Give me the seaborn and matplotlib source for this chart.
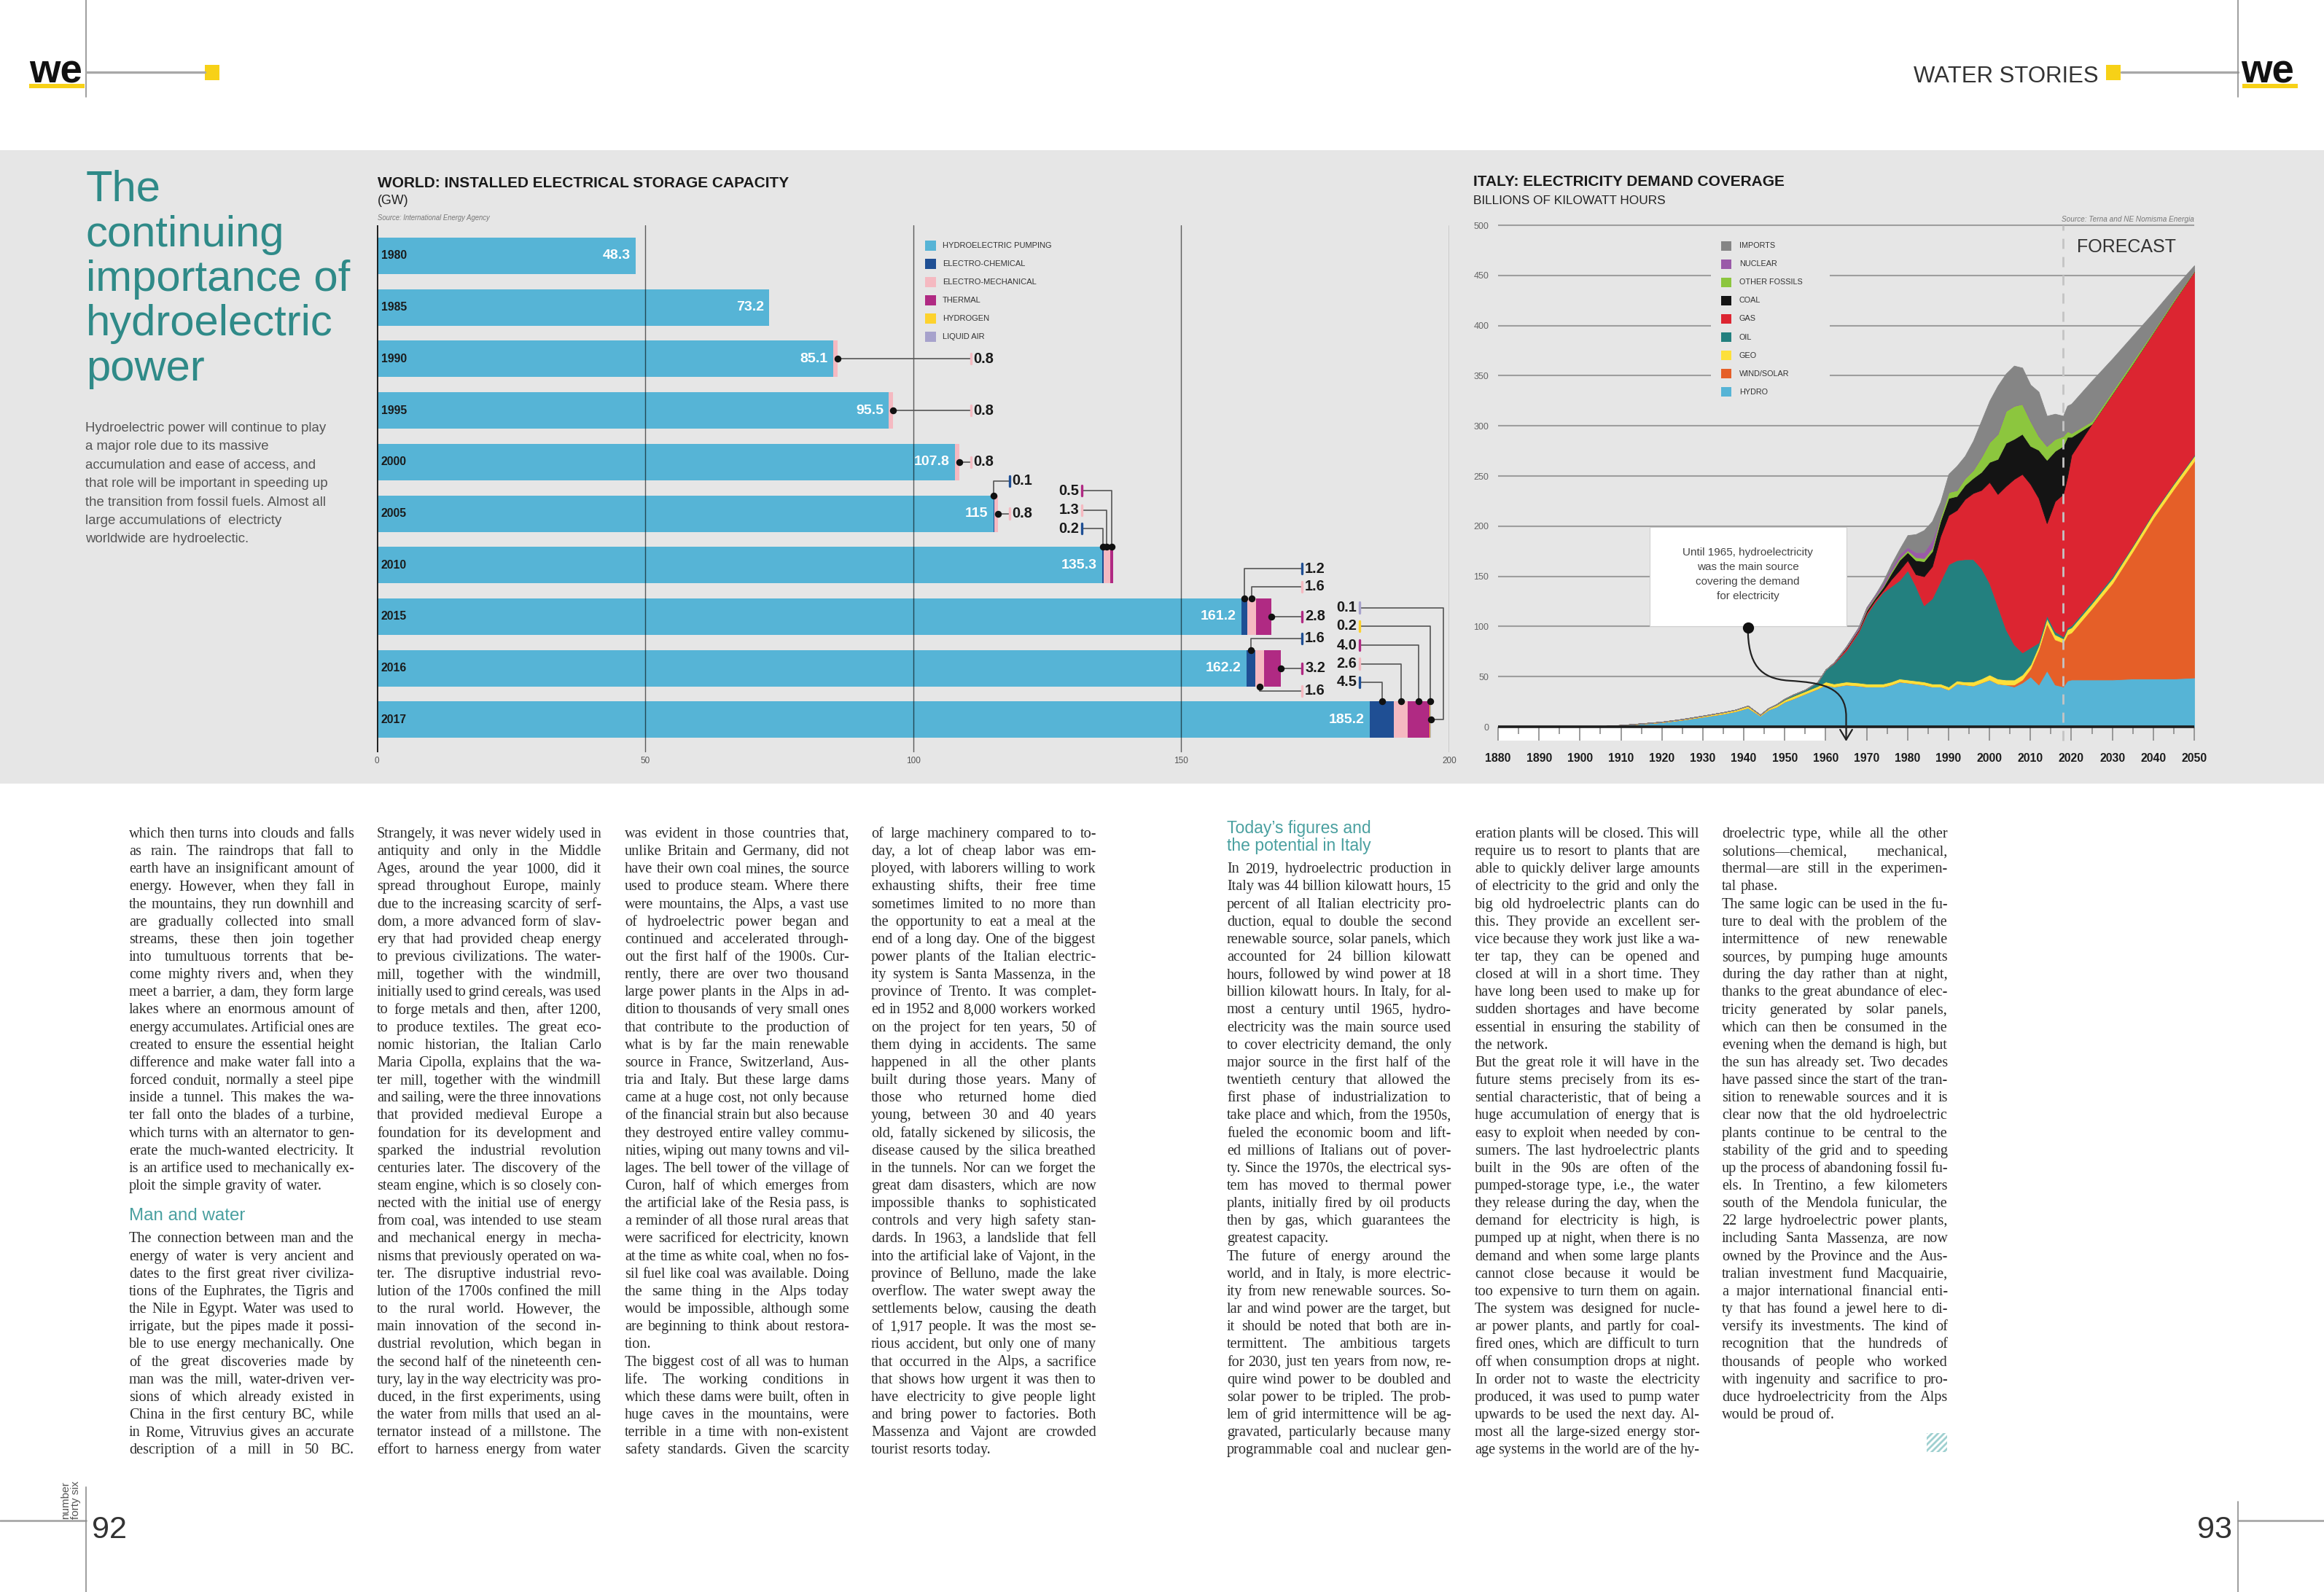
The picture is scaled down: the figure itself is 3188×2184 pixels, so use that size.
import matplotlib
matplotlib.use("Agg")
import matplotlib.pyplot as plt
import seaborn as sns
from matplotlib.patches import Rectangle, FancyArrowPatch
from matplotlib.path import Path
from matplotlib.font_manager import FontProperties, fontManager
from matplotlib.textpath import TextToPath

# =================================================================
# 1. DATA
# =================================================================
# World: installed electrical storage capacity (GW)
STORAGE_YEARS = ["1980", "1985", "1990", "1995", "2000", "2005", "2010", "2015", "2016", "2017"]
HYDRO_PUMPING = [48.3, 73.2, 85.1, 95.5, 107.8, 115, 135.3, 161.2, 162.2, 185.2]
ELECTRO_CHEMICAL = [0, 0, 0, 0, 0, 0.1, 0.2, 1.2, 1.6, 4.5]
ELECTRO_MECHANICAL = [0, 0, 0.8, 0.8, 0.8, 0.8, 1.3, 1.6, 1.6, 2.6]
THERMAL = [0, 0, 0, 0, 0, 0, 0.5, 2.8, 3.2, 4.0]
HYDROGEN = [0, 0, 0, 0, 0, 0, 0, 0, 0, 0.2]
LIQUID_AIR = [0, 0, 0, 0, 0, 0, 0, 0, 0, 0.1]
STORAGE_LABELS = ["HYDROELECTRIC PUMPING", "ELECTRO-CHEMICAL", "ELECTRO-MECHANICAL",
                  "THERMAL", "HYDROGEN", "LIQUID AIR"]
STORAGE_COLORS = ["#56b4d6", "#1f4f94", "#f5b9c1", "#b02a83", "#fdd22d", "#a7a2cc"]

# Italy: electricity demand coverage (billions of kWh)
ITALY_YEARS = [1880, 1900, 1905, 1910, 1915, 1920, 1925, 1930, 1935, 1938,
               1941, 1944, 1946, 1948, 1950, 1952, 1955, 1958, 1960, 1962,
               1965, 1968, 1970, 1972, 1974, 1976, 1978, 1980, 1982, 1984,
               1986, 1988, 1990, 1992, 1994, 1996, 1998, 2000, 2002, 2004,
               2006, 2008, 2010, 2012, 2014, 2016, 2018, 2019, 2020, 2025,
               2030, 2035, 2040, 2045, 2050]
HYDRO = [0, 0, 0.5, 1.5, 3, 4.5, 7, 10, 13, 15.5,
         19, 11, 17, 20, 25, 28, 33, 38, 42, 40,
         42, 41, 40, 40, 40, 42, 45, 44, 43, 42,
         40, 40, 37, 43, 42, 41, 44, 47, 43, 42,
         40, 44, 50, 42, 56, 42, 40, 46, 47, 47,
         47, 48, 48, 48, 49]
WIND_SOLAR = [0, 0, 0, 0, 0, 0, 0, 0, 0, 0,
              0, 0, 0, 0, 0, 0, 0, 0, 0, 0,
              0, 0, 0, 0, 0, 0, 0, 0, 0, 0,
              0, 0, 0, 0, 0, 0, 0, 0, 0, 0,
              2, 3, 8, 35, 47, 45, 44, 46, 47, 71,
              96, 127, 160, 189, 216]
GEO = [0, 0, 0, 0.2, 0.3, 0.5, 0.7, 1, 1.5, 1.5,
       2, 1, 1.5, 2, 2, 2.5, 2.5, 2.5, 3, 3,
       3, 3, 3, 3, 3, 3, 3, 3, 3, 3,
       3, 3, 3, 3, 3, 4, 4, 5, 5, 5,
       5, 5, 4, 4, 5, 5, 4, 5, 5, 5,
       5, 5, 5, 5, 5]
OIL = [0, 0, 0, 0, 0, 0, 0, 0, 0, 0,
       0, 0, 0, 0.5, 1, 1.5, 1.5, 4, 12, 20,
       31, 50, 69, 81, 91, 95, 98, 109, 94, 76,
       85, 102, 122, 120, 122, 122, 110, 91, 72, 50,
       35, 22, 17, 3, 3, 3, 2, 2, 2, 2,
       2, 1, 1, 1, 1]
GAS = [0, 0, 0, 0, 0, 0, 0, 0, 0, 0,
       0, 0, 0, 0, 0, 0, 0, 0, 0, 1,
       2, 2, 2, 2, 2, 7, 10, 10, 12, 29,
       32, 45, 49, 50, 60, 66, 78, 101, 112, 143,
       165, 178, 163, 144, 92, 130, 142, 150, 170, 177,
       182, 181, 179, 181, 183]
COAL = [0, 0, 0, 0, 0, 0, 0, 0, 0, 0,
        0, 0, 0, 0, 0, 0, 0, 0, 0, 0,
        1, 1, 2, 2, 3, 6, 10, 8, 14, 15,
        15, 15, 17, 14, 14, 15, 18, 20, 35, 43,
        40, 40, 38, 48, 63, 50, 48, 40, 18, 0,
        0, 0, 0, 0, 0]
OTHER_FOSSILS = [0, 0, 0, 0, 0, 0, 0, 0, 0, 0,
                 0, 0, 0, 0, 0, 0, 0, 0, 0, 0,
                 0, 0, 1, 1, 1, 2, 2, 2, 3, 3,
                 3, 4, 6, 6, 7, 8, 15, 20, 25, 32,
                 33, 30, 25, 14, 14, 12, 10, 6, 4, 3,
                 3, 3, 2, 2, 1]
NUCLEAR = [0, 0, 0, 0, 0, 0, 0, 0, 0, 0,
           0, 0, 0, 0, 0, 0, 0, 0, 0, 0,
           1, 2, 2, 2, 3, 3, 4, 3, 5, 6,
           8, 0, 0, 0, 0, 0, 0, 0, 0, 0,
           0, 0, 0, 0, 0, 0, 0, 0, 0, 0,
           0, 0, 0, 0, 0]
IMPORTS = [0, 0, 0, 0, 0, 0, 0, 0, 0, 0,
           0, 0, 0, 0, 0, 0, 0, 0, 0, 0,
           0, 0, 0, 0, 2, 4, 5, 12, 18, 22,
           19, 15, 18, 24, 22, 29, 36, 41, 48, 37,
           40, 36, 36, 44, 30, 25, 20, 25, 29, 40,
           32, 25, 18, 11, 5]
ITALY_LABELS = ["IMPORTS", "NUCLEAR", "OTHER FOSSILS", "COAL", "GAS", "OIL", "GEO", "WIND/SOLAR", "HYDRO"]
ITALY_COLORS = ["#858585", "#9a5aa8", "#8cc63e", "#141414", "#dc2531", "#23807f", "#fde03a", "#e55f28", "#56b4d6"]

# callouts for the small storage segments:
# (bar, layer, label row, tick x in GW, label side, elbow x)
CALLOUTS = [
    (2, 2, 2.0, 110.8, "r", None), (3, 2, 3.0, 110.8, "r", None), (4, 2, 4.0, 110.8, "r", None),
    (5, 1, 4.37, 118.0, "r", None), (5, 2, 5.0, 118.0, "r", None),
    (6, 3, 4.555, 131.5, "l", None), (6, 2, 4.936, 131.5, "l", None), (6, 1, 5.29, 131.5, "l", None),
    (7, 1, 6.07, 172.6, "r", None), (7, 2, 6.42, 172.6, "r", None), (7, 3, 7.0, 172.6, "r", None),
    (8, 1, 7.42, 172.6, "r", None), (8, 3, 8.0, 172.6, "r", None), (8, 2, 8.44, 172.6, "r", None),
    (9, 5, 6.825, 183.3, "l", 198.9), (9, 4, 7.185, 183.3, "l", None), (9, 3, 7.553, 183.3, "l", None),
    (9, 2, 7.914, 183.3, "l", None), (9, 1, 8.274, 183.3, "l", None),
]

# =================================================================
# 2. TEXT OF THE SPREAD
# =================================================================
TITLE_LINES = ["The", "continuing", "importance of", "hydroelectric", "power"]
INTRO_LINES = ["Hydroelectric power will continue to play",
               "a major role due to its massive",
               "accumulation and ease of access, and",
               "that role will be important in speeding up",
               "the transition from fossil fuels. Almost all",
               "large accumulations of  electricty",
               "worldwide are hydroelectic."]

COL1 = ["which then turns into clouds and falls",
        "as rain. The raindrops that fall to",
        "earth have an insignificant amount of",
        "energy. However, when they fall in",
        "the mountains, they run downhill and",
        "are gradually collected into small",
        "streams, these then join together",
        "into tumultuous torrents that be-",
        "come mighty rivers and, when they",
        "meet a barrier, a dam, they form large",
        "lakes where an enormous amount of",
        "energy accumulates. Artificial ones are",
        "created to ensure the essential height",
        "difference and make water fall into a",
        "forced conduit, normally a steel pipe",
        "inside a tunnel. This makes the wa-",
        "ter fall onto the blades of a turbine,",
        "which turns with an alternator to gen-",
        "erate the much-wanted electricity. It",
        "is an artifice used to mechanically ex-",
        "ploit the simple gravity of water.\n",
        None, None,
        "The connection between man and the",
        "energy of water is very ancient and",
        "dates to the first great river civiliza-",
        "tions of the Euphrates, the Tigris and",
        "the Nile in Egypt. Water was used to",
        "irrigate, but the pipes made it possi-",
        "ble to use energy mechanically. One",
        "of the great discoveries made by",
        "man was the mill, water-driven ver-",
        "sions of which already existed in",
        "China in the first century BC, while",
        "in Rome, Vitruvius gives an accurate",
        "description of a mill in 50 BC."]
COL2 = ["Strangely, it was never widely used in",
        "antiquity and only in the Middle",
        "Ages, around the year 1000, did it",
        "spread throughout Europe, mainly",
        "due to the increasing scarcity of serf-",
        "dom, a more advanced form of slav-",
        "ery that had provided cheap energy",
        "to previous civilizations. The water-",
        "mill, together with the windmill,",
        "initially used to grind cereals, was used",
        "to forge metals and then, after 1200,",
        "to produce textiles. The great eco-",
        "nomic historian, the Italian Carlo",
        "Maria Cipolla, explains that the wa-",
        "ter mill, together with the windmill",
        "and sailing, were the three innovations",
        "that provided medieval Europe a",
        "foundation for its development and",
        "sparked the industrial revolution",
        "centuries later. The discovery of the",
        "steam engine, which is so closely con-",
        "nected with the initial use of energy",
        "from coal, was intended to use steam",
        "and mechanical energy in mecha-",
        "nisms that previously operated on wa-",
        "ter. The disruptive industrial revo-",
        "lution of the 1700s confined the mill",
        "to the rural world. However, the",
        "main innovation of the second in-",
        "dustrial revolution, which began in",
        "the second half of the nineteenth cen-",
        "tury, lay in the way electricity was pro-",
        "duced, in the first experiments, using",
        "the water from mills that used an al-",
        "ternator instead of a millstone. The",
        "effort to harness energy from water"]
COL3 = ["was evident in those countries that,",
        "unlike Britain and Germany, did not",
        "have their own coal mines, the source",
        "used to produce steam. Where there",
        "were mountains, the Alps, a vast use",
        "of hydroelectric power began and",
        "continued and accelerated through-",
        "out the first half of the 1900s. Cur-",
        "rently, there are over two thousand",
        "large power plants in the Alps in ad-",
        "dition to thousands of very small ones",
        "that contribute to the production of",
        "what is by far the main renewable",
        "source in France, Switzerland, Aus-",
        "tria and Italy. But these large dams",
        "came at a huge cost, not only because",
        "of the financial strain but also because",
        "they destroyed entire valley commu-",
        "nities, wiping out many towns and vil-",
        "lages. The bell tower of the village of",
        "Curon, half of which emerges from",
        "the artificial lake of the Resia pass,  is",
        "a reminder of all those rural areas that",
        "were sacrificed for electricity, known",
        "at the time as white coal, when no fos-",
        "sil fuel like coal was available. Doing",
        "the same thing in the Alps today",
        "would be impossible, although some",
        "are beginning to think about restora-",
        "tion.\n",
        "The biggest cost of all was to human",
        "life. The working conditions in",
        "which these dams were built, often in",
        "huge caves in the mountains, were",
        "terrible in a time with non-existent",
        "safety standards. Given the scarcity"]
COL4 = ["of large machinery compared to to-",
        "day, a lot of cheap labor was em-",
        "ployed, with laborers willing to work",
        "exhausting shifts, their free time",
        "sometimes limited to no more than",
        "the opportunity to eat a meal at the",
        "end of a long day. One of the biggest",
        "power plants of the Italian electric-",
        "ity system is Santa Massenza, in the",
        "province of Trento. It was complet-",
        "ed in 1952 and 8,000 workers worked",
        "on the project for ten years, 50 of",
        "them dying in accidents. The same",
        "happened in all the other plants",
        "built during those years. Many of",
        "those who returned home died",
        "young, between 30 and 40 years",
        "old, fatally sickened by silicosis, the",
        "disease caused by the silica breathed",
        "in the tunnels. Nor can we forget the",
        "great dam disasters, which are now",
        "impossible thanks to sophisticated",
        "controls and very high safety stan-",
        "dards. In 1963, a landslide that fell",
        "into the artificial lake of Vajont, in the",
        "province of Belluno, made the lake",
        "overflow. The water swept away the",
        "settlements below, causing the death",
        "of 1,917 people. It was the most se-",
        "rious accident, but only one of many",
        "that occurred in the Alps, a sacrifice",
        "that shows how urgent it was then to",
        "have electricity to give people light",
        "and bring power to factories. Both",
        "Massenza and Vajont are crowded",
        "tourist resorts today.\n"]
COL5 = [None, None,
        "In 2019, hydroelectric production in",
        "Italy was 44 billion kilowatt hours, 15",
        "percent of all Italian electricity pro-",
        "duction, equal to double the second",
        "renewable source, solar panels, which",
        "accounted for 24 billion kilowatt",
        "hours, followed by wind power at 18",
        "billion kilowatt hours. In Italy, for al-",
        "most a century until 1965, hydro-",
        "electricity was the main source used",
        "to cover electricity demand, the only",
        "major source in the first half of the",
        "twentieth century that allowed the",
        "first phase of industrialization to",
        "take place and which, from the 1950s,",
        "fueled the economic boom and lift-",
        "ed millions of Italians out of pover-",
        "ty. Since the 1970s, the electrical sys-",
        "tem has moved to thermal power",
        "plants, initially fired by oil products",
        "then by gas, which guarantees the",
        "greatest capacity.\n",
        "The future of energy around the",
        "world, and in Italy, is more electric-",
        "ity from new renewable sources. So-",
        "lar and wind power are the target, but",
        "it should be noted that both are in-",
        "termittent. The ambitious targets",
        "for 2030, just ten years from now, re-",
        "quire wind power to be doubled and",
        "solar power to be tripled. The prob-",
        "lem of grid intermittence will be ag-",
        "gravated, particularly because many",
        "programmable coal and nuclear gen-"]
COL6 = ["eration plants will be closed. This will",
        "require us to resort to plants that are",
        "able to quickly deliver large amounts",
        "of electricity to the grid and only the",
        "big old hydroelectric plants can do",
        "this. They provide an excellent ser-",
        "vice because they work just like a wa-",
        "ter tap, they can be opened and",
        "closed at will in a short time. They",
        "have long been used to make up for",
        "sudden shortages and have become",
        "essential in ensuring the stability of",
        "the network.\n",
        "But the great role it will have in the",
        "future stems precisely from its es-",
        "sential characteristic, that of being a",
        "huge accumulation of energy that is",
        "easy to exploit when needed by con-",
        "sumers. The last hydroelectric plants",
        "built in the 90s are often of the",
        "pumped-storage type, i.e., the water",
        "they release during the day, when the",
        "demand for electricity is high, is",
        "pumped up at night, when there is no",
        "demand and when some large plants",
        "cannot close because it would be",
        "too expensive to turn them on again.",
        "The system was designed for nucle-",
        "ar power plants, and partly for coal-",
        "fired ones, which are difficult to turn",
        "off when consumption drops at night.",
        "In order not to waste the electricity",
        "produced, it was used to pump water",
        "upwards to be used the next day. Al-",
        "most all the large-sized energy stor-",
        "age systems in the world are of the hy-"]
COL7 = ["droelectric type, while all the other",
        "solutions\u2014chemical, mechanical,",
        "thermal\u2014are still in the experimen-",
        "tal phase.\n",
        "The same logic can be used in the fu-",
        "ture to deal with the problem of the",
        "intermittence of new renewable",
        "sources, by pumping huge amounts",
        "during the day rather than at night,",
        "thanks to the great abundance of elec-",
        "tricity generated by solar panels,",
        "which can then be consumed in the",
        "evening when the demand is high, but",
        "the sun has already set. Two decades",
        "have passed since the start of the tran-",
        "sition to renewable sources and it is",
        "clear now that the old hydroelectric",
        "plants continue to be central to the",
        "stability of the grid and to speeding",
        "up the process of abandoning fossil fu-",
        "els. In Trentino, a few kilometers",
        "south of the Mendola funicular, the",
        "22 large hydroelectric power plants,",
        "including Santa Massenza, are now",
        "owned by the Province and the Aus-",
        "tralian investment fund Macquairie,",
        "a major international financial enti-",
        "ty that has found a jewel here to di-",
        "versify its investments. The kind of",
        "recognition that the hundreds of",
        "thousands of people who worked",
        "with ingenuity and sacrifice to pro-",
        "duce hydroelectricity from the Alps",
        "would be proud of.\n"]

# =================================================================
# 3. STYLE
# =================================================================
sns.set_theme(style="white")
plt.rcParams["font.family"] = ["Liberation Sans", "DejaVu Sans"]

W, H, DPI = 3188, 2184, 200
BG = "#e6e6e6"
TEAL = "#2f8a88"
TEAL_LIGHT = "#4aa0a0"
YELLOW = "#f7d117"
BODY_COLOR = "#2b2b2b"
BODY_SIZE = 7.3

FONT_NAMES = {f.name for f in fontManager.ttflist}
HAS_NARROW = "Liberation Sans Narrow" in FONT_NAMES


def cond(size, weight="normal", style="normal"):
    """Condensed look: Liberation Sans Narrow if present, else a smaller Liberation Sans."""
    if HAS_NARROW:
        return dict(family="Liberation Sans Narrow", fontsize=size, fontweight=weight, fontstyle=style)
    return dict(family="Liberation Sans", fontsize=size * 0.82, fontweight=weight, fontstyle=style)


def axrect(left, top, right, bottom):
    return [left / W, 1 - bottom / H, (right - left) / W, (bottom - top) / H]


fig = plt.figure(figsize=(W / DPI, H / DPI), dpi=DPI, facecolor="white")
bg = fig.add_axes([0, 0, 1, 1], zorder=0)
bg.set_xlim(0, W)
bg.set_ylim(H, 0)
bg.axis("off")
PX = bg.transData

# grey band behind the charts
bg.add_patch(Rectangle((0, 206), W, 869, facecolor=BG, edgecolor="none", zorder=0))

# ---- header ----
bg.plot([118, 118], [0, 133], color="#8c8c8c", lw=0.6)
bg.plot([118, 281], [99, 99], color="#a8a8a8", lw=1.2)
bg.add_patch(Rectangle((281, 89), 20, 21, facecolor=YELLOW, edgecolor="none"))
bg.text(40, 113, "we", color="#111111", ha="left", va="baseline", **cond(24, "bold"))
bg.add_patch(Rectangle((40, 115), 76, 6, facecolor=YELLOW, edgecolor="none"))
bg.text(2879, 113, "WATER STORIES", color="#333333", ha="right", va="baseline", **cond(13.7))
bg.add_patch(Rectangle((2889, 89), 20, 21, facecolor=YELLOW, edgecolor="none"))
bg.plot([2910, 3070], [99, 99], color="#a8a8a8", lw=1.2)
bg.plot([3070, 3070], [0, 133], color="#8c8c8c", lw=0.6)
bg.text(3074, 113, "we", color="#111111", ha="left", va="baseline", **cond(24, "bold"))
bg.add_patch(Rectangle((3076, 115), 76, 6, facecolor=YELLOW, edgecolor="none"))

# ---- footer ----
bg.plot([0, 118], [2086, 2086], color="#a8a8a8", lw=1.0)
bg.plot([118, 118], [2040, 2184], color="#8c8c8c", lw=0.6)
bg.text(126, 2110, "92", color="#333333", ha="left", va="baseline", **cond(19))
bg.text(97, 2084, "number\nforty six", rotation=90, ha="center", va="bottom",
        color="#555555", fontsize=5.5, linespacing=0.95)
bg.plot([3070, 3188], [2086, 2086], color="#a8a8a8", lw=1.0)
bg.plot([3070, 3070], [2060, 2184], color="#8c8c8c", lw=0.6)
bg.text(3062, 2110, "93", color="#333333", ha="right", va="baseline", **cond(19))

# ---- left intro ----
for k, line in enumerate(TITLE_LINES):
    bg.text(118, 276 + 61.5 * k, line, color=TEAL, fontsize=21.5, ha="left", va="baseline")
for k, line in enumerate(INTRO_LINES):
    bg.text(117, 592 + 25.4 * k, line, color="#555555", fontsize=6.7, ha="left", va="baseline")

# =================================================================
# 4. WORLD STORAGE CHART (seaborn bars)
# =================================================================
bg.text(518, 257, "WORLD: INSTALLED ELECTRICAL STORAGE CAPACITY", color="#1a1a1a",
        ha="left", va="baseline", **cond(9.2, "bold"))
bg.text(518, 276, "(GW)", color="#222222", ha="left", va="center", **cond(7.8))
bg.text(518, 299, "Source: International Energy Agency", color="#777777", ha="left",
        va="center", **cond(4.2, style="italic"))

ax1 = fig.add_axes(axrect(517, 309, 1988, 1032), zorder=2)
ax1.set_facecolor("none")
layers = [HYDRO_PUMPING, ELECTRO_CHEMICAL, ELECTRO_MECHANICAL, THERMAL, HYDROGEN, LIQUID_AIR]
BAR_W = 0.707
# stacked bars drawn as overlaid cumulative totals, longest first
for li in range(len(layers) - 1, -1, -1):
    cum = [sum(layers[j][b] for j in range(li + 1)) for b in range(len(STORAGE_YEARS))]
    sns.barplot(x=cum, y=STORAGE_YEARS, order=STORAGE_YEARS, orient="h", color=STORAGE_COLORS[li],
                saturation=1, width=BAR_W, errorbar=None, linewidth=0, ax=ax1, zorder=2)

ax1.set_xlim(0, 200)
ax1.set_ylim(9.632, -0.594)
ax1.set_xlabel("")
ax1.set_ylabel("")
for s in ax1.spines.values():
    s.set_visible(False)
ax1.tick_params(left=False, labelleft=False, bottom=False)
ax1.set_xticks([0, 50, 100, 150, 200])
ax1.set_xticklabels(["0", "50", "100", "150", "200"], color="#555555", **cond(5.2))
ax1.tick_params(axis="x", pad=2.2, length=0)
for gx in [50, 100, 150, 200]:
    ax1.axvline(gx, color="#000000", alpha=0.6, lw=0.5, zorder=5)
ax1.axvline(0, color="#1a1a1a", lw=1.0, zorder=6)

for b, yr in enumerate(STORAGE_YEARS):
    ax1.text(0.8, b, yr, color="#1a1a1a", ha="left", va="center", zorder=7, **cond(6.9, "bold"))
    ax1.text(HYDRO_PUMPING[b] - 1.0, b, f"{HYDRO_PUMPING[b]:g}", color="white", fontsize=7,
             fontweight="bold", ha="right", va="center", zorder=7)

half = BAR_W / 2
for bi, li, ly, tx, side, elbow in CALLOUTS:
    start = sum(layers[j][bi] for j in range(li))
    val = layers[li][bi]
    end = start + val
    if elbow is not None:
        pts = [(end, bi), (elbow, bi), (elbow, ly), (tx, ly)]
    elif abs(ly - bi) < 1e-6:
        pts = [(end, bi), (tx, bi)]
    else:
        cx = start + val / 2
        ey = bi - half if ly < bi else bi + half
        pts = [(cx, ey), (cx, ly), (tx, ly)]
    xs, ys = zip(*pts)
    ax1.plot(xs, ys, color="#555555", lw=0.6, zorder=7, clip_on=False)
    ax1.plot([pts[0][0]], [pts[0][1]], "o", ms=2.4, color="#111111", zorder=8, clip_on=False)
    ax1.plot([tx, tx], [ly - 0.1, ly + 0.1], color=STORAGE_COLORS[li], lw=1.2, zorder=8)
    if side == "r":
        ax1.text(tx + 0.5, ly, f"{val:.1f}", ha="left", va="center", fontsize=7.2,
                 fontweight="bold", color="#1a1a1a", zorder=8)
    else:
        ax1.text(tx - 0.5, ly, f"{val:.1f}", ha="right", va="center", fontsize=7.2,
                 fontweight="bold", color="#1a1a1a", zorder=8)

for k, (lab, col) in enumerate(zip(STORAGE_LABELS, STORAGE_COLORS)):
    y = 337 + 25 * k
    ax1.add_patch(Rectangle((1269, y - 7), 15, 14, facecolor=col, edgecolor="none",
                            transform=PX, clip_on=False, zorder=8))
    ax1.text(1293, y, lab, color="#333333", ha="left", va="center", transform=PX,
             zorder=8, **cond(4.9))

# =================================================================
# 5. ITALY DEMAND CHART (stacked areas)
# =================================================================
bg.text(2021, 255, "ITALY: ELECTRICITY DEMAND COVERAGE", color="#1a1a1a", ha="left",
        va="baseline", **cond(9.2, "bold"))
bg.text(2021, 280, "BILLIONS OF KILOWATT HOURS", color="#222222", ha="left", va="baseline",
        **cond(7.6))
bg.text(3010, 301, "Source: Terna and NE Nomisma Energia", color="#777777", ha="right",
        va="center", **cond(4.4, style="italic"))
bg.text(2849, 339, "FORECAST", color="#333333", fontsize=9, ha="left", va="center")

ax2 = fig.add_axes(axrect(2043.8, 304.9, 3021.2, 1017), zorder=2)
ax2.set_facecolor("none")
ax2.set_xlim(1878, 2052)
ax2.set_ylim(-14.5, 503)
for s in ax2.spines.values():
    s.set_visible(False)

ax2.hlines(list(range(50, 501, 50)), 1880, 2050, color="#9e9e9e", lw=0.75, zorder=1)
stack_order = [HYDRO, WIND_SOLAR, GEO, OIL, GAS, COAL, OTHER_FOSSILS, NUCLEAR, IMPORTS]
ax2.stackplot(ITALY_YEARS, *stack_order, colors=ITALY_COLORS[::-1], linewidth=0.3,
              edgecolor="face", zorder=2)

# timeline strip and ticks under the axis
ax2.add_patch(Rectangle((1880, -14), 80, 14, facecolor="white", edgecolor="none", zorder=1))
ax2.vlines(list(range(1880, 2051, 10)), -14, 0, color="#8a8a8a", lw=0.6, zorder=3, clip_on=False)
ax2.vlines(list(range(1885, 2050, 10)), -7, 0, color="#8a8a8a", lw=0.6, zorder=3, clip_on=False)
ax2.hlines(0, 1880, 2050, color="#1e1e1e", lw=1.3, zorder=4)
ax2.vlines(2018, -14, 500, color="#c4c4c4", lw=1.0, linestyles=(0, (5, 4)), zorder=5, clip_on=False)

ax2.set_xticks(list(range(1880, 2051, 10)))
ax2.set_xticklabels([str(y) for y in range(1880, 2051, 10)], color="#1a1a1a", **cond(7.0, "bold"))
ax2.set_yticks(list(range(0, 501, 50)))
ax2.set_yticklabels([str(v) for v in range(0, 501, 50)], color="#666666", **cond(5.5))
ax2.tick_params(axis="x", length=0, pad=5.8)
ax2.tick_params(axis="y", length=0, pad=0.5)

# legend with a patch that breaks the gridlines
ax2.add_patch(Rectangle((2347, 322), 163, 233, facecolor=BG, edgecolor="none", transform=PX,
                        clip_on=False, zorder=1.5))
for k, (lab, col) in enumerate(zip(ITALY_LABELS, ITALY_COLORS)):
    y = 337 + 25.1 * k
    ax2.add_patch(Rectangle((2361, y - 6.5), 14, 13, facecolor=col, edgecolor="none",
                            transform=PX, clip_on=False, zorder=3))
    ax2.text(2386, y, lab, color="#333333", ha="left", va="center", transform=PX,
             zorder=3, **cond(4.8))

# hydro annotation box and arrow
ax2.add_patch(Rectangle((1917, 100), 48, 99, facecolor="white", edgecolor="#d0d0d0", lw=0.4, zorder=3))
ax2.text(1941, 152, "Until 1965, hydroelectricity\nwas the main source\ncovering the demand\nfor electricity",
         ha="center", va="center", multialignment="center", fontsize=5.5, color="#444444",
         linespacing=1.55, zorder=4)
curve = Path([(1941, 99), (1941, 62), (1944, 48), (1951, 46),
              (1959, 44), (1965, 40), (1965, 10), (1965, -14.5)],
             [Path.MOVETO, Path.CURVE4, Path.CURVE4, Path.CURVE4,
              Path.CURVE4, Path.CURVE4, Path.CURVE4, Path.LINETO])
ax2.add_patch(FancyArrowPatch(path=curve, arrowstyle="->,head_length=0.5,head_width=0.3",
                              mutation_scale=10, color="#222222", lw=0.8, zorder=6, clip_on=False))
ax2.plot([1941], [99], "o", ms=4.5, color="#111111", zorder=7)

# =================================================================
# 6. BODY TEXT (justified columns)
# =================================================================
t2p = TextToPath()


def text_w(s, prop):
    return t2p.get_text_width_height_descent(s, prop, ismath=False)[0] * DPI / 72.0


def draw_column(lines, x0, x1, y0, step=24.15):
    colw = x1 - x0
    for k, raw in enumerate(lines):
        if raw is None:
            continue
        last = raw.endswith("\n")
        words = raw.split()
        prop = FontProperties(family="Liberation Serif", size=BODY_SIZE)
        widths = [text_w(w, prop) for w in words]
        space = text_w("a a", prop) - text_w("aa", prop)
        n = len(words)
        if not last and n > 1:
            need = sum(widths) + 0.45 * space * (n - 1)
            if need > colw:
                prop = FontProperties(family="Liberation Serif", size=BODY_SIZE * colw / need)
                widths = [text_w(w, prop) for w in words]
            gap = (colw - sum(widths)) / (n - 1)
        else:
            gap = space
        x = x0
        y = y0 + k * step + 5
        for w, wd in zip(words, widths):
            bg.text(x, y, w, fontproperties=prop, color=BODY_COLOR, ha="left", va="baseline")
            x += wd + gap


draw_column(COL1, 177, 486, 1144)
draw_column(COL2, 517, 825, 1144)
draw_column(COL3, 857, 1165, 1144)
draw_column(COL4, 1195, 1504, 1144)
draw_column(COL5, 1683, 1991, 1144)
draw_column(COL6, 2023, 2332, 1144)
draw_column(COL7, 2362, 2672, 1144)

bg.text(177, 1668, "Man and water", color=TEAL_LIGHT, fontsize=8.7, ha="left", va="center")
bg.text(1683, 1137, "Today\u2019s figures and", color=TEAL_LIGHT, fontsize=8.3, ha="left", va="center")
bg.text(1683, 1161, "the potential in Italy", color=TEAL_LIGHT, fontsize=8.3, ha="left", va="center")
bg.add_patch(Rectangle((2643, 1966), 28, 26, facecolor="none", edgecolor="#9fd0d0", hatch="////////", lw=0))

fig.savefig("out.png", dpi=DPI, facecolor="white")
plt.close(fig)
